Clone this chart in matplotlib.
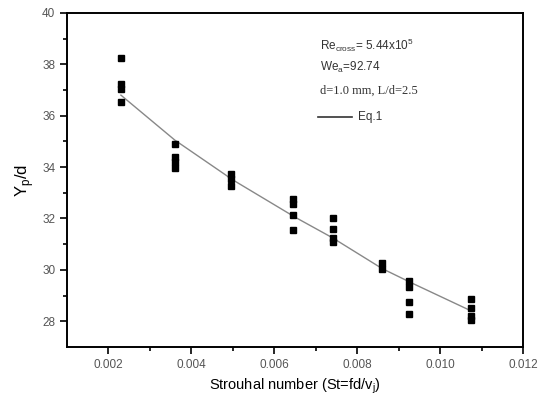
import numpy as np
from matplotlib import pyplot as plt

# measured points: Strouhal number vs Yp/d
st = [0.0023] * 4 + [0.0036] * 4 + [0.00496] * 3 + [0.00646] * 4 + \
     [0.00742] * 4 + [0.0086] * 2 + [0.00925] * 4 + [0.01075] * 4
yp = [38.25, 37.25, 37.05, 36.55,
      34.9, 34.4, 34.2, 33.95,
      33.75, 33.55, 33.25,
      32.75, 32.55, 32.15, 31.55,
      32.0, 31.6, 31.25, 31.1,
      30.25, 30.05,
      29.55, 29.35, 28.75, 28.3,
      28.85, 28.5, 28.2, 28.05]

# Eq.1 curve
eq_st = [0.0023, 0.0036, 0.005, 0.0065, 0.0074, 0.0086, 0.0093, 0.01075]
eq_yp = [36.8, 35.05, 33.5, 32.05, 31.25, 30.05, 29.5, 28.4]

xticks = [0.002, 0.004, 0.006, 0.008, 0.010, 0.012]
yticks = [28, 30, 32, 34, 36, 38, 40]

plt.rcParams['font.family'] = ['Liberation Sans', 'DejaVu Sans']

fig = plt.figure(figsize=(5.47, 4.03), dpi=100)
ax = fig.add_axes([0.1225, 0.139, 0.834, 0.829])

ax.plot(eq_st, eq_yp, color='#888888', lw=1.0)
ax.plot(st, yp, ls='none', marker='s', ms=5, color='black')

ax.set_xlim(0.001, 0.012)
ax.set_ylim(27, 40)
ax.set_xticks(xticks)
ax.set_xticklabels(['%.3f' % v for v in xticks])
ax.set_yticks(yticks)
ax.set_xticks(np.arange(0.003, 0.012, 0.002), minor=True)
ax.set_yticks(np.arange(29, 40, 2), minor=True)
ax.tick_params(which='both', direction='out', top=False, right=False,
               labelsize=8.5, labelcolor='#555555', width=1.2)
ax.tick_params(which='major', length=5)
ax.tick_params(which='minor', length=3)
for sp in ax.spines.values():
    sp.set_linewidth(1.4)

ax.set_xlabel('Strouhal number (St=fd/v$_\\mathregular{j}$)', fontsize=10.5)
ax.set_ylabel('Y$_\\mathregular{p}$/d', fontsize=12)

ax.text(0.00711, 38.75, 'Re$_\\mathregular{cross}$= 5.44x10$^\\mathregular{5}$',
        fontsize=8.5, color='#333333', va='center')
ax.text(0.00711, 37.86, 'We$_\\mathregular{a}$=92.74', fontsize=8.5,
        color='#333333', va='center')
ax.text(0.00711, 36.97, 'd=1.0 mm, L/d=2.5', fontsize=9, color='#333333',
        family=['Liberation Serif', 'DejaVu Serif'], va='center')
ax.plot([0.00704, 0.00788], [35.95, 35.95], color='#333333', lw=1.2)
ax.text(0.00802, 35.95, 'Eq.1', fontsize=8.5, color='#333333', va='center')

fig.savefig('out.png', dpi=100)
